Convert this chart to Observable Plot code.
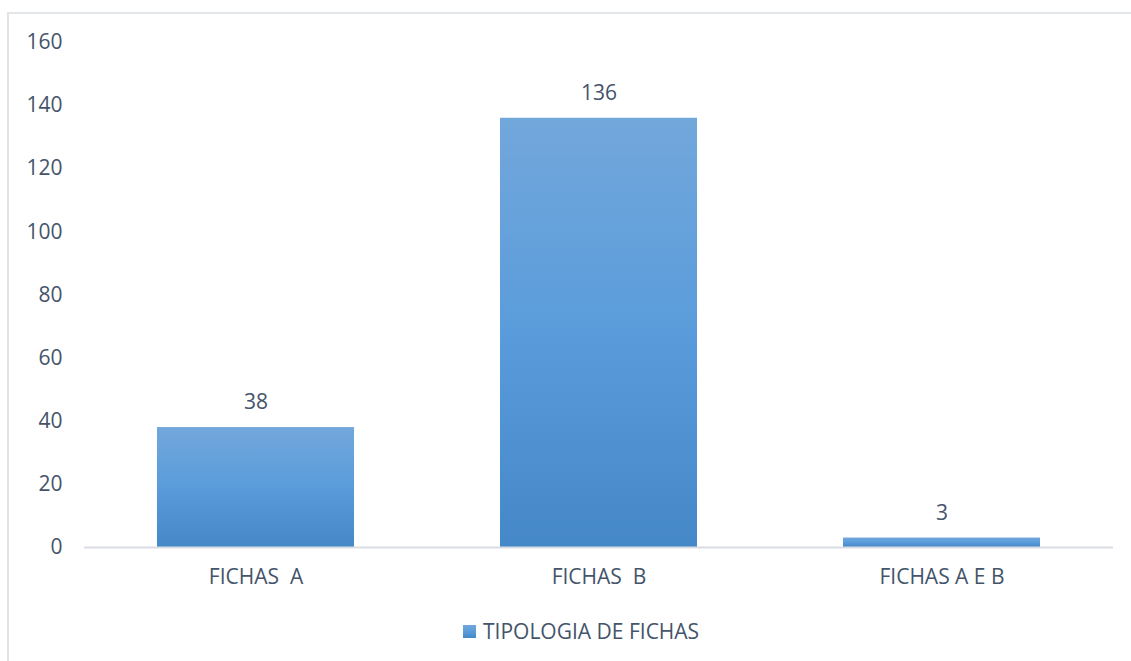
<!DOCTYPE html>
<html>
<head>
<meta charset="utf-8">
<script src="https://cdn.jsdelivr.net/npm/d3@7"></script>
<script src="https://cdn.jsdelivr.net/npm/@observablehq/plot@0.6"></script>
<style>
  html, body { margin: 0; padding: 0; background: #fff; }
  #page { position: relative; width: 1131px; height: 661px; overflow: hidden; }
  #frame { position: absolute; left: 7px; top: 12px; right: -4px; bottom: -4px;
           border-top: 2px solid #e4e7ea; border-left: 2px solid #e0e4e9; }
  #chart { position: absolute; left: 0; top: 0; }
  #chart svg text { white-space: pre; }
  #legend { position: absolute; left: 463px; top: 617px; display: flex; align-items: center;
            font-family: "Open Sans", sans-serif; font-size: 21px; color: #44546a; }
  #legend .sw { width: 13px; height: 13px; margin-right: 7px;
                background: linear-gradient(#72a7db, #5a9cdb 50%, #4588c7); }
</style>
</head>
<body>
<div id="page">
  <div id="frame"></div>
  <div id="chart"></div>
  <div id="legend"><span class="sw"></span><span id="legendText"></span></div>
</div>
<script>
const categories = ["FICHAS  A", "FICHAS  B", "FICHAS A E B"];
const values = [38, 136, 3];
const yTicks = [0, 20, 40, 60, 80, 100, 120, 140, 160];
const seriesName = "TIPOLOGIA DE FICHAS";

const data = categories.map((c, i) => ({cat: c, value: values[i]}));

function gradientDefs() {
  const ns = "http://www.w3.org/2000/svg";
  const defs = document.createElementNS(ns, "defs");
  const lg = document.createElementNS(ns, "linearGradient");
  lg.setAttribute("id", "barGrad");
  lg.setAttribute("x1", "0"); lg.setAttribute("y1", "0");
  lg.setAttribute("x2", "0"); lg.setAttribute("y2", "1");
  [["0%", "#72a7db"], ["50%", "#5a9cdb"], ["100%", "#4588c7"]].forEach(([o, c]) => {
    const s = document.createElementNS(ns, "stop");
    s.setAttribute("offset", o);
    s.setAttribute("stop-color", c);
    lg.appendChild(s);
  });
  defs.appendChild(lg);
  return defs;
}

const chart = Plot.plot({
  width: 1131,
  height: 610,
  marginLeft: 84,
  marginRight: 18,
  marginTop: 42,
  marginBottom: 63,
  style: {fontFamily: "Open Sans, sans-serif", fontSize: "21px", color: "#44546a", background: "transparent", overflow: "visible"},
  x: {domain: categories, paddingInner: 0.426, paddingOuter: 0.213, label: null, tickSize: 0, tickPadding: 22},
  y: {domain: [0, 160], ticks: yTicks, label: null, tickSize: 0, tickPadding: 22},
  marks: [
    gradientDefs,
    Plot.barY(data, {x: "cat", y: "value", fill: "url(#barGrad)"}),
    Plot.ruleY([0], {stroke: "#d9dde3", strokeWidth: 2}),
    Plot.text(data, {x: "cat", y: "value", text: d => String(d.value), dy: -25, fill: "#44546a", fontSize: 21})
  ]
});
document.getElementById("chart").appendChild(chart);
document.getElementById("legendText").textContent = seriesName;
</script>
</body>
</html>
